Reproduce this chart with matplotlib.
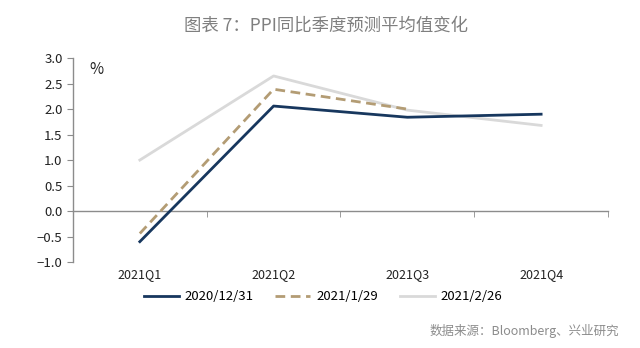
import matplotlib
matplotlib.use("Agg")
import matplotlib.pyplot as plt
from matplotlib.ticker import FixedLocator, FuncFormatter

plt.rcParams['font.family'] = ['Noto Sans CJK SC', 'DejaVu Sans']

quarters = ["2021Q1", "2021Q2", "2021Q3", "2021Q4"]
s_1231 = [-0.60, 2.06, 1.84, 1.90]
s_0129 = [-0.44, 2.39, 2.00]
s_0226 = [1.00, 2.65, 1.98, 1.68]
y_ticks = [-1.0, -0.5, 0.0, 0.5, 1.0, 1.5, 2.0, 2.5, 3.0]

fig = plt.figure(figsize=(6.4, 3.48), dpi=100)
ax = fig.add_axes([0.114, 0.247, 0.836, 0.586])

x = list(range(len(quarters)))
ax.plot(x, s_0226, color="#d9d9d9", lw=2, label="2021/2/26", zorder=2)
ax.plot(x[:len(s_0129)], s_0129, color="#b39c74", lw=2, ls=(0, (3.5, 2)), label="2021/1/29", zorder=3)
ax.plot(x, s_1231, color="#17375e", lw=2, label="2020/12/31", zorder=4)

ax.set_xlim(-0.5, 3.5)
ax.set_ylim(-1.0, 3.0)
ax.set_yticks(y_ticks)
ax.yaxis.set_major_formatter(FuncFormatter(lambda v, p: f"{v:.1f}".replace("-", "\u2212")))

ax.spines['top'].set_visible(False)
ax.spines['right'].set_visible(False)
ax.spines['bottom'].set_position(('data', 0))
for sp in ['left', 'bottom']:
    ax.spines[sp].set_color("#8c8c8c")
    ax.spines[sp].set_linewidth(1)

ax.set_xticks(x)
ax.set_xticklabels(quarters)
ax.xaxis.set_minor_locator(FixedLocator([0.5, 1.5, 2.5, 3.5]))
ax.tick_params(axis='x', which='major', length=0, pad=41, labelsize=9, colors="#222222")
ax.tick_params(axis='x', which='minor', length=4, direction='out', color="#8c8c8c")
ax.tick_params(axis='y', length=4, direction='out', color="#8c8c8c", labelsize=9.5, labelcolor="#222222")

ax.text(0.03, 0.985, "%", transform=ax.transAxes, fontsize=11, ha='left', va='top', color="#222222")

fig.text(0.51, 0.925, "图表 7：PPI同比季度预测平均值变化", ha='center', va='center',
         fontsize=12.5, color="#7f7f7f")

h, l = ax.get_legend_handles_labels()
order = [2, 1, 0]
fig.legend([h[i] for i in order], [l[i] for i in order], loc='center', bbox_to_anchor=(0.505, 0.147),
           ncol=3, frameon=False, fontsize=9.5, handlelength=2.65, columnspacing=1.65, handletextpad=0.45)

fig.text(0.968, 0.05, "数据来源：Bloomberg、兴业研究", ha='right', va='center', fontsize=9, color="#8c8c8c")

fig.savefig("out.png", dpi=100)
